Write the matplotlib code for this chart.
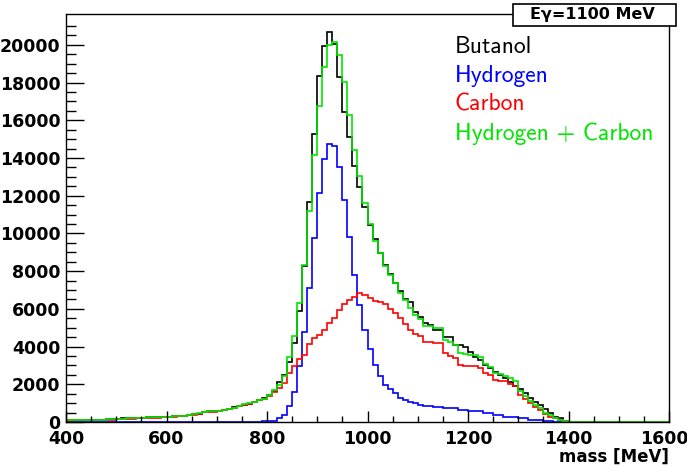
import matplotlib
matplotlib.use("Agg")
import matplotlib.pyplot as plt
import matplotlib.transforms as mtransforms
from matplotlib.patches import Rectangle
import numpy as np

# ── data: 10 MeV bins from 400 to 1600 MeV, counts ──────────────────────────
bin_edges = np.arange(400, 1601, 10)

butanol = [
    80, 90, 100, 100, 110, 110, 120, 130, 140, 150,
    170, 190, 200, 190, 210, 220, 240, 250, 250, 270,
    280, 300, 310, 330, 360, 400, 450, 520, 560, 560,
    600, 650, 690, 780, 860, 920, 980, 1080, 1170, 1250,
    1430, 1660, 2100, 2500, 3200, 4210, 5890, 8290, 11690, 15260,
    18370, 19960, 20670, 20040, 18320, 16430, 15140, 13580, 12480, 11420,
    10450, 9710, 8980, 8330, 7830, 7360, 6970, 6520, 6380, 5850,
    5590, 5270, 5150, 4880, 4880, 4490, 4490, 4090, 4090, 4000,
    3730, 3470, 3290, 3020, 2850, 2670, 2490, 2320, 2140, 1910,
    1730, 1520, 1260, 1080, 900, 670, 460, 280, 190, 70,
    20, 10, 0, 0, 0, 0, 0, 0, 0, 0,
    0, 0, 0, 0, 0, 0, 0, 0, 0, 0,
]

hydrogen = [
    20, 20, 20, 20, 20, 20, 20, 20, 20, 20,
    20, 20, 20, 20, 20, 20, 20, 20, 20, 20,
    20, 20, 20, 20, 20, 20, 20, 20, 20, 20,
    20, 20, 20, 20, 20, 20, 20, 20, 20, 30,
    40, 70, 190, 370, 850, 1610, 2970, 4790, 7090, 9740,
    12130, 13930, 14750, 14640, 13550, 11780, 9800, 7800, 6210, 4880,
    3860, 3020, 2440, 1960, 1730, 1520, 1250, 1170, 1080, 1030,
    900, 850, 850, 810, 810, 720, 720, 720, 640, 640,
    560, 560, 560, 460, 460, 370, 370, 280, 280, 280,
    190, 190, 110, 110, 110, 70, 70, 20, 20, 10,
    0, 0, 0, 0, 0, 0, 0, 0, 0, 0,
    0, 0, 0, 0, 0, 0, 0, 0, 0, 0,
]

carbon = [
    70, 80, 85, 85, 90, 95, 100, 110, 120, 125,
    145, 165, 180, 180, 195, 205, 220, 230, 235, 250,
    260, 280, 300, 320, 350, 390, 440, 510, 550, 545,
    585, 635, 675, 740, 830, 910, 970, 1060, 1150, 1200,
    1400, 1610, 1790, 2090, 2620, 2950, 3320, 3550, 4120, 4430,
    4620, 4880, 5230, 5500, 5940, 6250, 6470, 6640, 6860, 6740,
    6560, 6400, 6380, 6250, 6000, 5780, 5500, 5200, 4900, 4650,
    4560, 4260, 4260, 4170, 4170, 3640, 3500, 3380, 3020, 2970,
    2970, 2970, 2870, 2610, 2480, 2230, 2180, 2180, 2030, 1910,
    1430, 1200, 990, 800, 650, 420, 280, 200, 100, 50,
    20, 10, 0, 0, 0, 0, 0, 0, 0, 0,
    0, 0, 0, 0, 0, 0, 0, 0, 0, 0,
]

hydrogen_plus_carbon = [
    90, 100, 105, 105, 110, 115, 120, 130, 140, 145,
    165, 185, 200, 200, 215, 225, 240, 250, 255, 270,
    280, 300, 320, 340, 370, 410, 460, 530, 570, 565,
    605, 655, 695, 760, 850, 930, 990, 1080, 1170, 1230,
    1440, 1680, 1980, 2460, 3470, 4560, 6290, 8340, 11210, 14170,
    16750, 18810, 19980, 20140, 19490, 18030, 16270, 14440, 13070, 11620,
    10500, 9600, 8950, 8300, 7800, 7350, 6850, 6450, 6050, 5700,
    5460, 5110, 5110, 4980, 4980, 4360, 4220, 4100, 3660, 3610,
    3530, 3530, 3430, 3070, 2940, 2600, 2550, 2460, 2310, 2190,
    1620, 1390, 1100, 910, 760, 490, 350, 220, 120, 60,
    20, 10, 0, 0, 0, 0, 0, 0, 0, 0,
    0, 0, 0, 0, 0, 0, 0, 0, 0, 0,
]

labels = ["Butanol", "Hydrogen", "Carbon", "Hydrogen + Carbon"]
colors = ["black", "#0000ff", "#ff0000", "#00e600"]
x_ticks = [400, 600, 800, 1000, 1200, 1400, 1600]
y_ticks = [0, 2000, 4000, 6000, 8000, 10000, 12000, 14000, 16000, 18000, 20000]

# ── figure ──────────────────────────────────────────────────────────────────
fig = plt.figure(figsize=(6.87, 4.65), dpi=100)
ax = fig.add_axes([66 / 687, 43 / 465, 603 / 687, 408 / 465])

series = [butanol, hydrogen, carbon, hydrogen_plus_carbon]
for vals, col in zip(series, colors):
    ax.stairs(vals, bin_edges, color=col, lw=1.2)

ax.set_xlim(400, 1600)
ax.set_ylim(0, 21640)
ax.set_xticks(x_ticks)
ax.set_yticks(y_ticks)
ax.set_xticks(np.arange(400, 1601, 50), minor=True)
ax.set_yticks(np.arange(0, 21001, 500), minor=True)
ax.tick_params(axis="both", which="both", direction="in", labelsize=12.5,
               width=1)
ax.tick_params(axis="x", which="major", length=8, pad=6)
ax.tick_params(axis="x", which="minor", length=4)
ax.tick_params(axis="y", which="major", length=13, pad=4)
ax.tick_params(axis="y", which="minor", length=7)
for lab in ax.get_xticklabels() + ax.get_yticklabels():
    lab.set_fontweight("bold")
# keep the last x label inside the canvas
fig.canvas.draw()
last = ax.get_xticklabels()[-1]
last.set_transform(last.get_transform() +
                   mtransforms.ScaledTranslation(-0.05, 0, fig.dpi_scale_trans))
for sp in ax.spines.values():
    sp.set_linewidth(1)

ax.set_xlabel("mass [MeV]", fontsize=12, fontweight="bold")
ax.xaxis.set_label_coords(1.0, -0.085)
ax.xaxis.label.set_horizontalalignment("right")
ax.xaxis.label.set_verticalalignment("center")

# legend written as plain coloured text, like the original
for i, (lab, col) in enumerate(zip(labels, colors)):
    fig.text(455 / 687, 1 - (47 + 28.8 * i) / 465, lab, color=col,
             fontsize=17, family="cmss10", va="center", ha="left")

# title box
fig.patches.append(Rectangle((513 / 687, 1 - 26 / 465), 163 / 687, 22 / 465,
                             transform=fig.transFigure, facecolor="white",
                             edgecolor="black", lw=1.2, zorder=5))
fig.text(592 / 687, 1 - 15 / 465, "E\u03b3=1100 MeV", fontsize=11.5,
         fontweight="bold", ha="center", va="center", zorder=6)

fig.savefig("out.png", dpi=100)
